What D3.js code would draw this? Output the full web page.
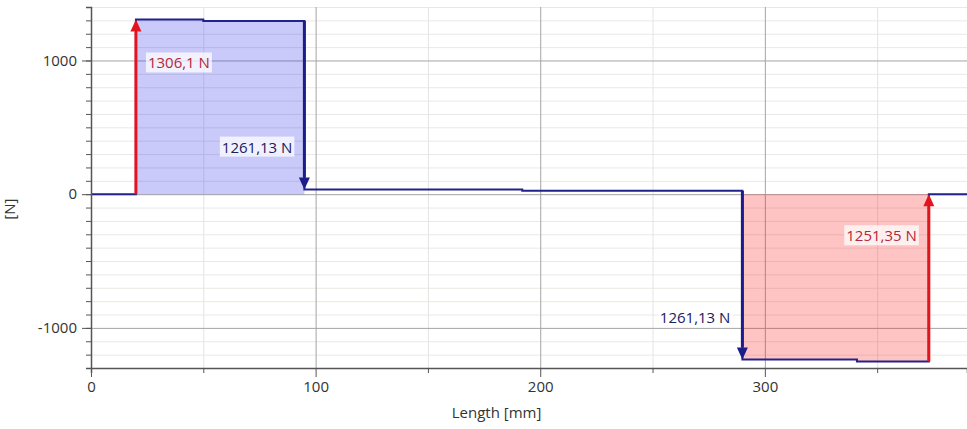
<!DOCTYPE html>
<html>
<head>
<meta charset="utf-8">
<script src="https://cdn.jsdelivr.net/npm/d3@7"></script>
<style>
	body { margin: 0; background: #fff; }
	text { font-family: "Open Sans", "DejaVu Sans", sans-serif; }
</style>
</head>
<body>
<div id="chart"></div>
<script>
// segment boundaries along the beam [mm] and shear value of each segment [N]
const stepX = [0, 20, 50, 95, 192, 290, 341, 373, 390];
const shear = [0, 1306.1, 1296.1, 34.97, 24.97, -1236.16, -1251.35, 0];

// point loads: position, label, colour, label side
const loadX = [20, 95, 290, 373];
const loadLabels = ["1306,1 N", "1261,13 N", "1261,13 N", "1251,35 N"];
const loadColors = ["#e4141c", "#1c1c8a", "#1c1c8a", "#e4141c"];
const labelColors = ["#b4283a", "#20205e", "#20205e", "#b4283a"];
const labelSide = ["right", "left", "left", "left"];

// shaded areas
const fillFrom = [20, 290];
const fillTo = [95, 373];
const fillColors = ["rgba(40,40,235,0.25)", "rgba(250,20,20,0.25)"];

const xMajor = [0, 100, 200, 300];
const yMajor = [-1000, 0, 1000];

//------------------------------------------------------------------------------
const margin = {t: 7, r: 0, b: 61, l: 91},
	w = 967, h = 429,
	pw = w - margin.l - margin.r,
	ph = h - margin.t - margin.b;

const x = d3.scaleLinear().domain([0, 390]).range([0, pw]);
const y = d3.scaleLinear().domain([-1300, 1400]).range([ph, 0]);

const svg = d3.select("#chart").append("svg")
	.attr("width", w).attr("height", h)
	.append("g")
		.attr("transform", "translate(" + margin.l + "," + margin.t + ")");

// build step points from the segments
function segPoints(a, b) {
	var p = [];
	shear.forEach(function(v, i) {
		if (stepX[i] >= a && stepX[i + 1] <= b) {
			p.push([stepX[i], v]);
			p.push([stepX[i + 1], v]);
		}
	});
	return p;
}
var pts = segPoints(0, 390);

function valueAt(px, side) {
	for (var i = 0; i < shear.length; i++) {
		if (side === 'before' && px > stepX[i] && px <= stepX[i + 1]) return shear[i];
		if (side === 'after' && px >= stepX[i] && px < stepX[i + 1]) return shear[i];
	}
	return 0;
}

// minor grid
svg.append("g").selectAll("line")
	.data(d3.range(-1300, 1401, 100).filter(function(d) { return d % 1000 !== 0; }))
	.enter().append("line")
	.attr("x1", 0).attr("x2", pw)
	.attr("y1", function(d) { return y(d) + 0.5; }).attr("y2", function(d) { return y(d) + 0.5; })
	.attr("stroke", "#e8e8e4").attr("stroke-width", 1);
svg.append("g").selectAll("line")
	.data([50, 150, 250, 350])
	.enter().append("line")
	.attr("x1", function(d) { return x(d) + 0.5; }).attr("x2", function(d) { return x(d) + 0.5; })
	.attr("y1", 0).attr("y2", ph)
	.attr("stroke", "#e4e4e4").attr("stroke-width", 1);

// major grid
svg.append("g").selectAll("line")
	.data(yMajor)
	.enter().append("line")
	.attr("x1", 0).attr("x2", pw)
	.attr("y1", function(d) { return y(d) + 0.5; }).attr("y2", function(d) { return y(d) + 0.5; })
	.attr("stroke", "#a4a4a4").attr("stroke-width", 1);
svg.append("g").selectAll("line")
	.data(xMajor.slice(1))
	.enter().append("line")
	.attr("x1", function(d) { return x(d) + 0.5; }).attr("x2", function(d) { return x(d) + 0.5; })
	.attr("y1", 0).attr("y2", ph)
	.attr("stroke", "#a4a4a4").attr("stroke-width", 1);

// shaded areas
var area = d3.area()
	.x(function(d) { return x(d[0]); })
	.y0(y(0))
	.y1(function(d) { return y(d[1]); });
fillFrom.forEach(function(f, i) {
	svg.append("path")
		.datum(segPoints(f, fillTo[i]))
		.attr("d", area)
		.attr("fill", fillColors[i]);
});

// step line
svg.append("path")
	.datum(pts)
	.attr("d", d3.line().x(function(d) { return x(d[0]); }).y(function(d) { return y(d[1]); }))
	.attr("fill", "none")
	.attr("stroke", "#22228c")
	.attr("stroke-width", 2);

// axes
var fmt = function(d) { return String(d); };
svg.append("g")
	.call(d3.axisLeft(y).tickValues(d3.range(-1300, 1401, 100)).tickSize(5).tickFormat(""))
	.call(function(g) {
		g.selectAll("line").attr("stroke", "#555");
		g.select(".domain").attr("stroke", "#555").attr("stroke-width", 1.5);
	});
svg.append("g")
	.call(d3.axisLeft(y).tickValues(yMajor).tickSize(9).tickPadding(5).tickFormat(fmt))
	.call(function(g) {
		g.select(".domain").remove();
		g.selectAll("line").attr("stroke", "#555");
		g.selectAll("text").attr("fill", "#333").style("font-size", "15px")
			.style("font-family", "'Open Sans', sans-serif");
	});
svg.append("g")
	.attr("transform", "translate(0," + ph + ")")
	.call(d3.axisBottom(x).tickValues([50, 150, 250, 350]).tickSize(5).tickFormat(""))
	.call(function(g) {
		g.selectAll("line").attr("stroke", "#555");
		g.select(".domain").attr("stroke", "#555").attr("stroke-width", 1.5);
	});
svg.append("g")
	.attr("transform", "translate(0," + ph + ")")
	.call(d3.axisBottom(x).tickValues(xMajor).tickSize(9).tickPadding(4).tickFormat(fmt))
	.call(function(g) {
		g.select(".domain").remove();
		g.selectAll("line").attr("stroke", "#555");
		g.selectAll("text").attr("fill", "#333").style("font-size", "15px")
			.style("font-family", "'Open Sans', sans-serif");
	});

// axis titles
svg.append("text")
	.attr("transform", "translate(" + (pw * 0.463) + "," + (ph + 50) + ")")
	.style("text-anchor", "middle")
	.style("font-size", "15px")
	.attr("fill", "#333")
	.text("Length [mm]");
svg.append("text")
	.attr("transform", "translate(" + (-margin.l + 10) + "," + (ph * 0.56) + ")rotate(-90)")
	.attr("dy", "0.35em")
	.style("text-anchor", "middle")
	.style("font-size", "15px")
	.attr("fill", "#333")
	.text("[N]");

// load arrows with labels
loadX.forEach(function(lx, i) {
	var from = valueAt(lx, 'before'), to = valueAt(lx, 'after');
	var dir = to > from ? -1 : 1; // screen direction of the tip
	var ax = x(lx), y0 = y(from), y1 = y(to);
	var head = 12, half = 5.5;
	svg.append("line")
		.attr("x1", ax).attr("x2", ax)
		.attr("y1", y0).attr("y2", y1 - dir * head)
		.attr("stroke", loadColors[i]).attr("stroke-width", 3);
	svg.append("path")
		.attr("d", "M" + ax + "," + y1 + "L" + (ax - half) + "," + (y1 - dir * head) +
			"L" + (ax + half) + "," + (y1 - dir * head) + "Z")
		.attr("fill", loadColors[i]);

	var ly = y(from + (to - from) * 0.75);
	var g = svg.append("g");
	var t = g.append("text")
		.attr("x", labelSide[i] === "right" ? ax + 12 : ax - 12)
		.attr("y", ly)
		.attr("dy", "0.35em")
		.style("text-anchor", labelSide[i] === "right" ? "start" : "end")
		.style("font-size", "15px")
		.attr("fill", labelColors[i])
		.text(loadLabels[i]);
	var bb = t.node().getBBox();
	g.insert("rect", "text")
		.attr("x", bb.x - 2).attr("y", bb.y)
		.attr("width", bb.width + 4).attr("height", bb.height)
		.attr("fill", "#fff").attr("fill-opacity", 0.75);
});
</script>
</body>
</html>
